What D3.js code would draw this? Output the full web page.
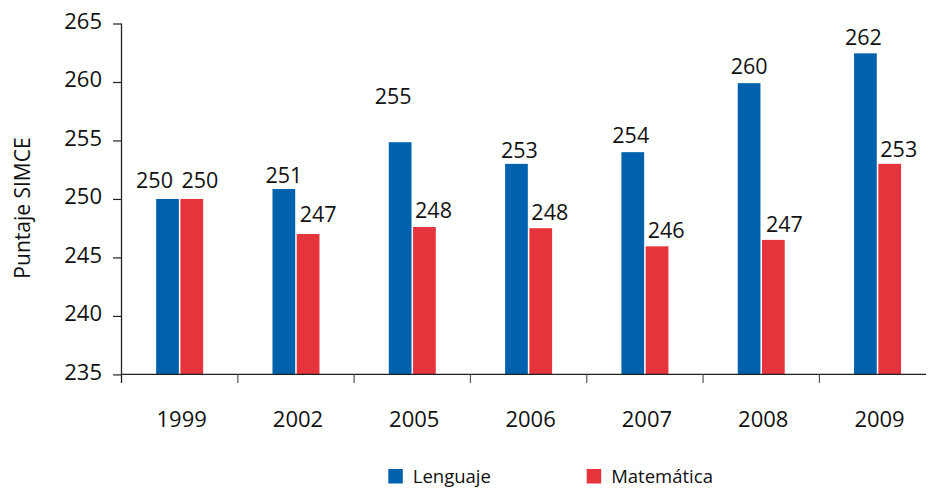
<!DOCTYPE html>
<html>
<head>
<meta charset="utf-8">
<script src="https://cdn.jsdelivr.net/npm/d3@7"></script>
<style>
  html, body { margin: 0; padding: 0; background: #fff; }
  svg { display: block; font-family: "Open Sans", "Noto Sans", sans-serif; }
</style>
</head>
<body>
<svg id="chart" width="928" height="488"></svg>
<script>
// ---- data ----
const years = ["1999", "2002", "2005", "2006", "2007", "2008", "2009"];
const seriesNames = ["Lenguaje", "Matemática"];
const lenguaje = [250.0, 250.85, 254.85, 253.0, 254.0, 259.9, 262.45];
const matematica = [250.0, 247.0, 247.6, 247.5, 245.95, 246.5, 253.0];
const lenguajeLabels = ["250", "251", "255", "253", "254", "260", "262"];
const matematicaLabels = ["250", "247", "248", "248", "246", "247", "253"];
const yTicks = [235, 240, 245, 250, 255, 260, 265];
const yTitle = "Puntaje SIMCE";

// ---- styling ----
const colors = { "Lenguaje": "#0062ad", "Matemática": "#e5343c" };
// per-label hand adjustments seen in the original [dx, dy]
const nudges = {
  "Lenguaje": [[-13, -3], [0, 2], [-7, -30], [3, 2], [-2, -1], [0, -1], [-2, 0]],
  "Matemática": [[0, -3], [2, -4], [1, -1], [1, 0], [1, 0], [3, 0], [1, 1]]
};

const svg = d3.select("#chart");
const x0 = 121.5, yTop = 23.5, yBot = 374.4;

const x = d3.scaleBand().domain(years).range([x0, 935.7]).paddingInner(0).paddingOuter(0);
const xs = d3.scaleBand().domain(seriesNames).range([-23.5, 23.5]).paddingInner(3 / 47);
const y = d3.scaleLinear().domain([235, 265]).range([yBot, yTop]);

const rows = [];
years.forEach((yr, i) => {
  rows.push({ year: yr, s: "Lenguaje", v: lenguaje[i], label: lenguajeLabels[i], i });
  rows.push({ year: yr, s: "Matemática", v: matematica[i], label: matematicaLabels[i], i });
});

// bars
svg.append("g").selectAll("rect").data(rows).join("rect")
  .attr("x", d => x(d.year) + x.bandwidth() / 2 + xs(d.s))
  .attr("y", d => y(d.v))
  .attr("width", xs.bandwidth())
  .attr("height", d => y(235) - y(d.v))
  .attr("fill", d => colors[d.s]);

// value labels
svg.append("g").selectAll("text").data(rows).join("text")
  .attr("x", d => {
    const bx = x(d.year) + x.bandwidth() / 2 + xs(d.s);
    const n = nudges[d.s][d.i][0];
    return d.s === "Lenguaje" ? bx + xs.bandwidth() / 2 + n : bx + 1 + n;
  })
  .attr("y", d => y(d.v) - 8 + nudges[d.s][d.i][1])
  .attr("text-anchor", d => d.s === "Lenguaje" ? "middle" : "start")
  .attr("font-size", 21.5)
  .attr("fill", "#111")
  .text(d => d.label);

// y axis
const yAxis = d3.axisLeft(y).tickValues(yTicks).tickSize(8.5).tickPadding(11).tickSizeOuter(0);
const gy = svg.append("g").attr("transform", `translate(${x0},0)`).call(yAxis);
gy.select(".domain").remove();
gy.selectAll(".tick line").attr("stroke", "#222").attr("stroke-width", 1.2);
gy.selectAll(".tick text").attr("font-size", 22).attr("fill", "#111")
  .attr("font-family", "'Open Sans', 'Noto Sans', sans-serif").attr("dy", "0.22em");
svg.append("line").attr("x1", x0).attr("x2", x0).attr("y1", yTop).attr("y2", yBot + 8.5)
  .attr("stroke", "#222").attr("stroke-width", 1.3);

// x axis
svg.append("line").attr("x1", x0).attr("x2", 926).attr("y1", yBot).attr("y2", yBot)
  .attr("stroke", "#222").attr("stroke-width", 1.3);
svg.append("g").selectAll("line").data(years.slice(1)).join("line")
  .attr("x1", d => x(d)).attr("x2", d => x(d))
  .attr("y1", yBot).attr("y2", yBot + 8.5)
  .attr("stroke", "#555").attr("stroke-width", 1.2);
svg.append("g").selectAll("text").data(years).join("text")
  .attr("x", d => x(d) + x.bandwidth() / 2 + 2)
  .attr("y", 426.5)
  .attr("text-anchor", "middle")
  .attr("font-size", 22)
  .attr("fill", "#111")
  .text(d => d);

// y title
svg.append("text")
  .attr("transform", `translate(30,208) rotate(-90)`)
  .attr("text-anchor", "middle")
  .attr("font-size", 21)
  .attr("fill", "#111")
  .text(yTitle);

// legend
const legendX = [388.3, 586.7];
const lg = svg.append("g").selectAll("g").data(seriesNames).join("g")
  .attr("transform", (d, i) => `translate(${legendX[i]},469)`);
lg.append("rect").attr("width", 14.5).attr("height", 14.5).attr("fill", d => colors[d]);
lg.append("text").attr("x", 24.5).attr("y", 14.3).attr("font-size", 18.5).attr("fill", "#111").text(d => d);
</script>
</body>
</html>
